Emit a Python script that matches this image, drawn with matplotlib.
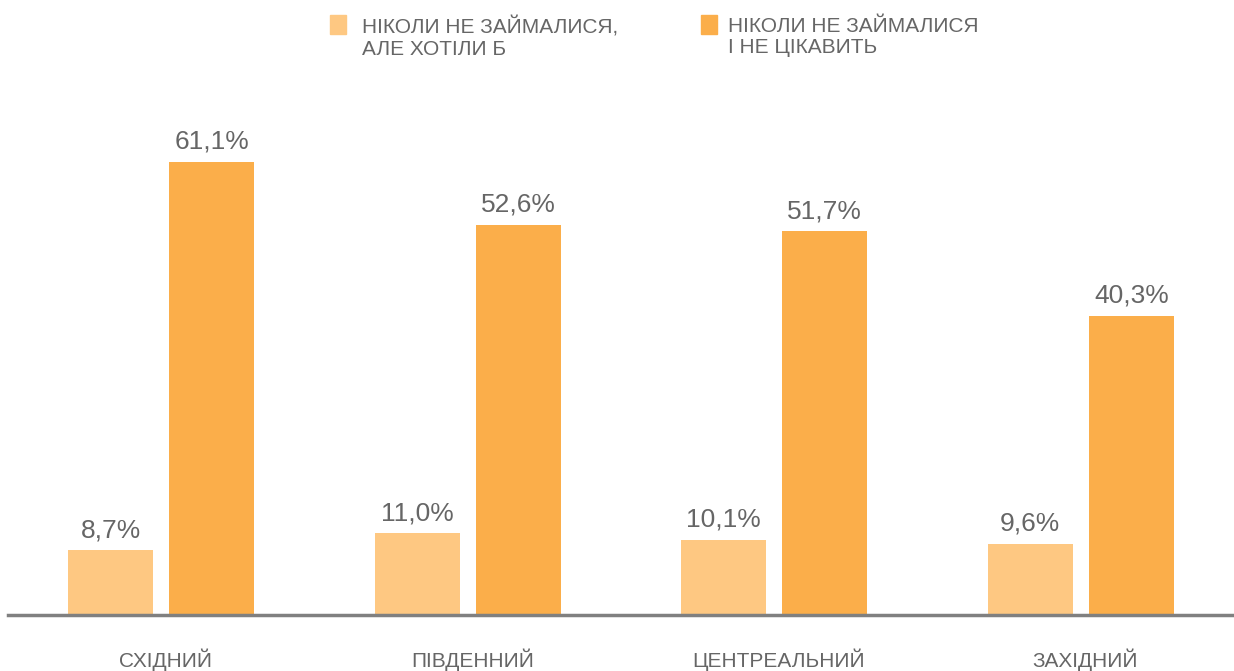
import numpy as np
import matplotlib.pyplot as plt
from matplotlib.patches import Rectangle

plt.rcParams['font.family'] = ['Liberation Sans', 'DejaVu Sans']

regions = ['СХІДНИЙ', 'ПІВДЕННИЙ', 'ЦЕНТРЕАЛЬНИЙ', 'ЗАХІДНИЙ']
wanted = [8.7, 11.0, 10.1, 9.6]
not_interested = [61.1, 52.6, 51.7, 40.3]
series_names = ['НІКОЛИ НЕ ЗАЙМАЛИСЯ,\nАЛЕ ХОТІЛИ Б', 'НІКОЛИ НЕ ЗАЙМАЛИСЯ\nІ НЕ ЦІКАВИТЬ']
colors = ['#FEC882', '#FBAE4A']
text_color = '#666666'

W, H = 1234, 671
fig = plt.figure(figsize=(W / 100, H / 100), dpi=100)
ax = fig.add_axes([8 / W, 56 / H, 1 - 8 / W, 598 / H])

x = np.arange(len(regions))
width = 0.278
offset = 0.165
for vals, off, col in [(wanted, -offset, colors[0]), (not_interested, offset, colors[1])]:
    bars = ax.bar(x + off, vals, width, color=col)
    for b, v in zip(bars, vals):
        ax.annotate(f'{v:.1f}%'.replace('.', ','), (b.get_x() + b.get_width() / 2, v),
                    xytext=(0, 6), textcoords='offset points', ha='center', va='bottom',
                    fontsize=19, color=text_color)

ax.set_xlim(-0.5, 3.5)
ax.set_ylim(0, 80.6)
for s in ['top', 'right', 'left']:
    ax.spines[s].set_visible(False)
ax.spines['bottom'].set_color('#808080')
ax.spines['bottom'].set_linewidth(2.5)
ax.set_yticks([])
ax.set_xticks(x + 0.015)
ax.set_xticklabels(regions, fontsize=15, color=text_color)
ax.tick_params(axis='x', length=0, pad=24)

# legend drawn by hand
sq_x = [330, 701]
txt_x = [362, 728]
for sx, tx, name, col in zip(sq_x, txt_x, series_names, colors):
    fig.patches.append(Rectangle((sx / W, 1 - 34 / H), 16 / W, 19 / H,
                                 transform=fig.transFigure, color=col))
    fig.text(tx / W, 1 - 17 / H, name, ha='left', va='top',
             fontsize=15, color=text_color, linespacing=1.15)

fig.savefig('out.png', dpi=100)
